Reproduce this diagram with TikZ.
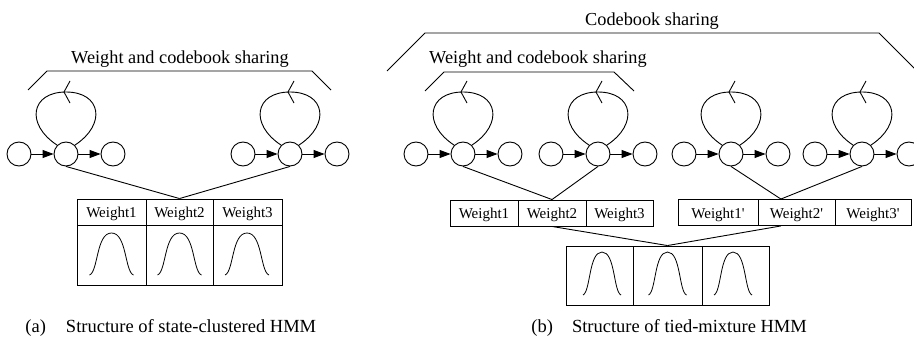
\documentclass[tikz,border=0pt]{standalone}
\usepackage{fontspec}
\setmainfont{Liberation Serif}
\usetikzlibrary{arrows.meta,calc}
\newcommand\sq{\XeTeXglyph\XeTeXcharglyph"27\relax}
\begin{document}
\begin{tikzpicture}[x=1pt,y=-1pt,line width=0.9pt,
  st/.style={circle,draw,inner sep=0pt,minimum size=24pt},
  arr/.style={-{Triangle[length=11pt,width=8pt]}},
  wcell/.style={draw,rectangle,inner sep=0pt,minimum height=26pt,text height=11pt,text depth=0pt,font=\fontsize{15}{17}\selectfont},
  gcell/.style={draw,rectangle,inner sep=0pt},
  ttl/.style={font=\fontsize{18.3}{20}\selectfont,anchor=base,inner sep=0pt},
  capt/.style={font=\fontsize{18.5}{20}\selectfont,anchor=base west,inner sep=0pt},
  bell/.style={line width=0.8pt}]
\useasboundingbox (0,0) rectangle (914,337);
\clip (0,0) rectangle (914,337);
\fill[white] (0,0) rectangle (914,337);

% HMM state chains
\foreach \g/\cx in {A/66, B/290, C/463, D/598, E/731, F/862} {
  \node[st] (\g1) at ({\cx-47},154) {};
  \node[st] (\g2) at (\cx,154) {};
  \node[st] (\g3) at ({\cx+47},154) {};
  \draw[arr] (\g1) -- (\g2);
  \draw[arr] (\g2) -- (\g3);
  \draw (\g2.135) .. controls ({\cx-41},124) and ({\cx-35},92) .. (\cx,92)
        .. controls ({\cx+35},92) and ({\cx+41},124) .. (\g2.45);
  \draw ({\cx+4},81) -- ({\cx-2},92) -- ({\cx+4},103);
}

% Panel (a) table
\node[wcell,minimum width=69pt] (aw1) at (111.5,212) {Weight1};
\node[wcell,minimum width=67pt] (aw2) at (179.5,212) {Weight2};
\node[wcell,minimum width=69pt] (aw3) at (247.5,212) {Weight3};
\node[gcell,minimum width=69pt,minimum height=60pt] (ag1) at (111.5,255) {};
\node[gcell,minimum width=67pt,minimum height=60pt] (ag2) at (179.5,255) {};
\node[gcell,minimum width=69pt,minimum height=60pt] (ag3) at (247.5,255) {};

% Panel (b) tables
\node[wcell,minimum width=68pt] (bw1) at (484,213) {Weight1};
\node[wcell,minimum width=68pt] (bw2) at (552,213) {Weight2};
\node[wcell,minimum width=67pt] (bw3) at (619.5,213) {Weight3};
\node[wcell,minimum width=80pt] (bw1p) at (718,212.5) {Weight1\sq};
\node[wcell,minimum width=77pt] (bw2p) at (796.5,212.5) {Weight2\sq};
\node[wcell,minimum width=76pt] (bw3p) at (873,212.5) {Weight3\sq};
\node[gcell,minimum width=67pt,minimum height=59pt] (bg1) at (599.5,275.5) {};
\node[gcell,minimum width=69pt,minimum height=59pt] (bg2) at (667.5,275.5) {};
\node[gcell,minimum width=67pt,minimum height=59pt] (bg3) at (735.5,275.5) {};

% Bell curves
\foreach \cx/\by/\w/\h in {111.5/275/22/42, 179.5/275/22/42, 247/275/22/42,
                           602/295/19/43, 667.5/295/19/43, 733/295/19/43} {
  \draw[bell] ({\cx-\w},\by) .. controls ({\cx-0.6*\w},{\by-0.08*\h}) and ({\cx-0.7*\w},{\by-\h}) .. (\cx,{\by-\h})
        .. controls ({\cx+0.7*\w},{\by-\h}) and ({\cx+0.6*\w},{\by-0.08*\h}) .. ({\cx+\w},\by);
}

% Connectors
\draw (A2.south) -- (aw2.north);
\draw (B2.south) -- (aw2.north);
\draw (C2.south) -- (bw2.north);
\draw (D2.south) -- (bw2.north);
\coordinate (jr) at ($(bw2p.north west)!0.3!(bw2p.north east)$);
\coordinate (jr2) at ($(bw2p.south west)!0.3!(bw2p.south east)$);
\draw (E2.south) -- (jr);
\draw (F2.south) -- (jr);
\draw (bw2.south) -- (bg2.north);
\draw (jr2) -- (bg2.north);

% Brackets
\draw (28,90) -- (47,71) -- (312,71) -- (331,90);
\draw (425,91) -- (444,72) -- (614,72) -- (634,91);
\draw (387,71) -- (425,33) -- (879,33) -- (917,71);

% Titles
\node[ttl] (ta) at (180,64) {Weight and codebook sharing};
\node[ttl] (tb1) at (652,25.5) {Codebook sharing};
\node[ttl] (tb2) at (538,64) {Weight and codebook sharing};

% Captions
\node[capt] (ca) at (25,332) {(a)\hspace{20pt}Structure of state-clustered HMM};
\node[capt] (cb) at (531,332) {(b)\hspace{19pt}Structure of tied-mixture HMM};
\end{tikzpicture}
\end{document}
